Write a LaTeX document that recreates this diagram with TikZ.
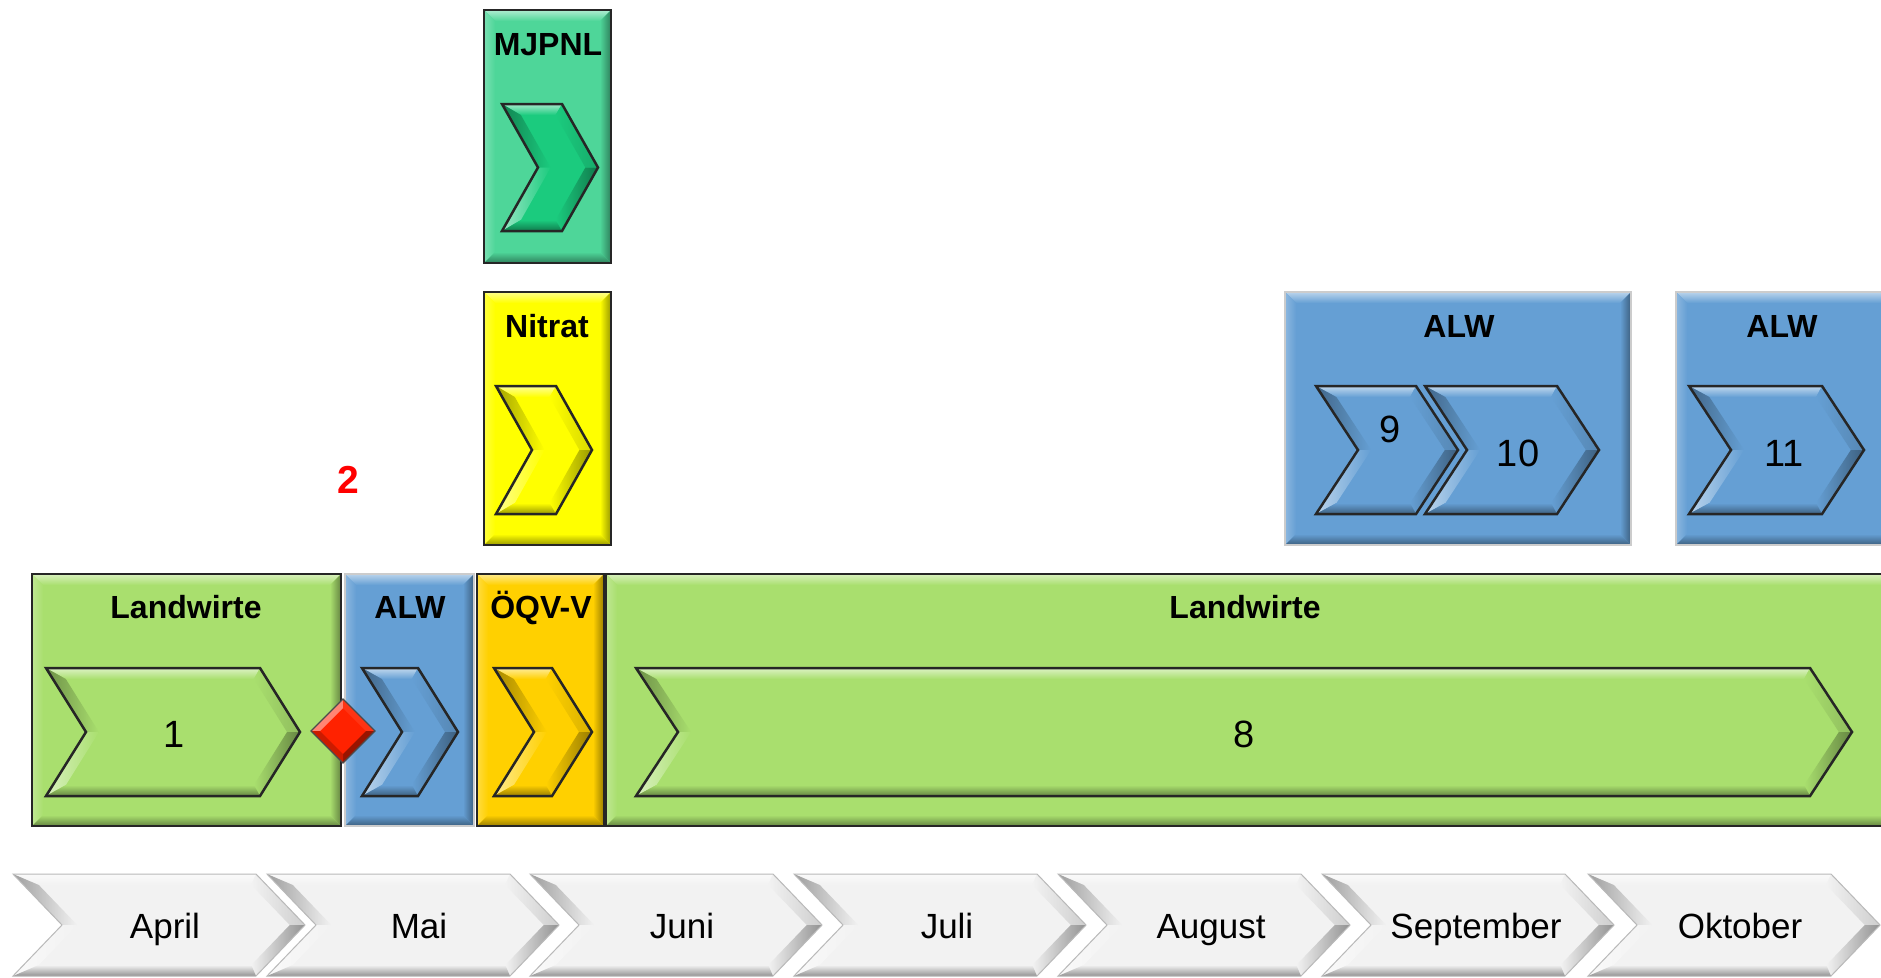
\documentclass[tikz,border=0pt]{standalone}
\usepackage{fontspec}
\setmainfont{Liberation Sans}
\definecolor{lgreen}{HTML}{A9DF6E}
\definecolor{alwblue}{HTML}{659FD4}
\definecolor{oqv}{HTML}{FFD000}
\definecolor{nyellow}{HTML}{FFFF00}
\definecolor{mjbox}{HTML}{4ED699}
\definecolor{mjchev}{HTML}{1BCB7E}
\definecolor{dred}{HTML}{FF2200}
\definecolor{monthgray}{HTML}{F2F2F2}
\newcommand\chw{11}
\newcommand\bevw{11}
% bevelled box: x1 y1 x2 y2 colour linestyle
\newcommand\bevbox[6]{%
 \pgfmathsetmacro\bxA{#1+\bevw}\pgfmathsetmacro\byA{#2+\bevw}%
 \pgfmathsetmacro\bxB{#3-\bevw}\pgfmathsetmacro\byB{#4-\bevw}%
 \fill[#5] (#1,#2) rectangle (#3,#4);
 \shade[top color=#5!45!white, bottom color=#5] (#1,#2) -- (#3,#2) -- (\bxB,\byA) -- (\bxA,\byA) -- cycle;
 \shade[left color=#5!75!white, right color=#5] (#1,#2) -- (\bxA,\byA) -- (\bxA,\byB) -- (#1,#4) -- cycle;
 \shade[left color=#5, right color=#5!60!black] (#3,#2) -- (\bxB,\byA) -- (\bxB,\byB) -- (#3,#4) -- cycle;
 \shade[top color=#5, bottom color=#5!60!black] (#1,#4) -- (\bxA,\byB) -- (\bxB,\byB) -- (#3,#4) -- cycle;
 \draw[#6] (#1,#2) rectangle (#3,#4);
}
% bevelled chevron: left tip top bottom depth colour linestyle
\newcommand\chev[7]{%
 \pgfmathsetmacro\cM{(#3+#4)/2}%
 \pgfmathsetmacro\cH{(#4-#3)/2}%
 \pgfmathsetmacro\cN{#1+#5}%
 \pgfmathsetmacro\cC{#2-#5}%
 \pgfmathsetmacro\cL{sqrt((#5)*(#5)+\cH*\cH)}%
 \pgfmathsetmacro\xTL{#1+\chw*(#5+\cL)/\cH}%
 \pgfmathsetmacro\xN{\cN+\chw*\cL/\cH}%
 \pgfmathsetmacro\xTR{\cC-\chw*(\cL-#5)/\cH}%
 \pgfmathsetmacro\xT{#2-\chw*\cL/\cH}%
 \pgfmathsetmacro\yT{#3+\chw}%
 \pgfmathsetmacro\yB{#4-\chw}%
 \fill[#6] (#1,#3) -- (\cC,#3) -- (#2,\cM) -- (\cC,#4) -- (#1,#4) -- (\cN,\cM) -- cycle;
 \shade[top color=#6!40!white, bottom color=#6] (#1,#3) -- (\cC,#3) -- (\xTR,\yT) -- (\xTL,\yT) -- cycle;
 \shade[left color=#6!65!black, right color=#6] (#1,#3) -- (\xTL,\yT) -- (\xN,\cM) -- (\cN,\cM) -- cycle;
 \shade[left color=#6!45!white, right color=#6] (\cN,\cM) -- (\xN,\cM) -- (\xTL,\yB) -- (#1,#4) -- cycle;
 \shade[left color=#6, right color=#6!85!black] (\cC,#3) -- (#2,\cM) -- (\xT,\cM) -- (\xTR,\yT) -- cycle;
 \shade[left color=#6, right color=#6!60!black] (#2,\cM) -- (\cC,#4) -- (\xTR,\yB) -- (\xT,\cM) -- cycle;
 \shade[top color=#6, bottom color=#6!60!black] (\xTL,\yB) -- (\xTR,\yB) -- (\cC,#4) -- (#1,#4) -- cycle;
 \draw[#7] (#1,#3) -- (\cC,#3) -- (#2,\cM) -- (\cC,#4) -- (#1,#4) -- (\cN,\cM) -- cycle;
}
\begin{document}
\begin{tikzpicture}[x=1pt,y=-1pt,
  lbl/.style={font=\fontsize{32}{36}\selectfont\bfseries, inner sep=0pt, anchor=base},
  num/.style={font=\fontsize{38}{42}\selectfont, inner sep=0pt, anchor=base},
  mon/.style={font=\fontsize{35}{40}\selectfont, inner sep=0pt, anchor=base},
  darkline/.style={draw=black!85, line width=2.5pt},
  lightline/.style={draw=gray!40, line width=2pt},
  chevline/.style={draw=black!85, line width=2.5pt, line join=miter},
  monline/.style={draw=gray!55, line width=1pt, line join=miter},
]
\useasboundingbox (0,0) rectangle (1881,977);
\clip (0,0) rectangle (1881,977);
\fill[white] (0,0) rectangle (1881,977);

% ---- top boxes
\bevbox{484}{10}{611}{263}{mjbox}{darkline}
\chev{502}{598}{104}{231}{36}{mjchev}{chevline}
\bevbox{484}{292}{611}{545}{nyellow}{darkline}
\chev{496}{592}{386}{514}{36}{nyellow}{chevline}
\bevbox{1285}{292}{1631}{545}{alwblue}{lightline}
\chev{1316}{1458}{386}{514}{42}{alwblue}{chevline}
\chev{1425}{1599}{386}{514}{42}{alwblue}{chevline}
\bevbox{1676}{292}{1900}{545}{alwblue}{lightline}
\chev{1689}{1864}{386}{514}{42}{alwblue}{chevline}

% ---- bottom row boxes
\bevbox{32}{574}{341}{826}{lgreen}{darkline}
\bevbox{345}{574}{474}{826}{alwblue}{lightline}
\bevbox{477}{574}{604}{826}{oqv}{darkline}
\bevbox{606}{574}{1900}{826}{lgreen}{darkline}
\chev{46}{300}{668}{796}{40}{lgreen}{chevline}
\chev{362}{458}{668}{796}{40}{alwblue}{chevline}
\chev{494}{592}{668}{796}{40}{oqv}{chevline}
\chev{636}{1852}{668}{796}{42}{lgreen}{chevline}

% ---- red diamond (milestone)
\coordinate (diamond) at (343,731);
\fill[dred] (343,699) -- (375,731) -- (343,763) -- (311,731) -- cycle;
\fill[dred!55!white] (343,699) -- (343,708) -- (320,731) -- (311,731) -- cycle;
\fill[dred!92!white] (343,699) -- (375,731) -- (366,731) -- (343,708) -- cycle;
\fill[dred!60!black] (375,731) -- (343,763) -- (343,754) -- (366,731) -- cycle;
\fill[dred!80!black] (343,763) -- (311,731) -- (320,731) -- (343,754) -- cycle;
\draw[black!70, line width=1.2pt] (343,699) -- (375,731) -- (343,763) -- (311,731) -- cycle;

% ---- month chevrons
\foreach \lx in {13,267,530,794,1058,1322,1588}{
  \pgfmathsetmacro\rx{\lx+292}
  \chev{\lx}{\rx}{874}{976}{49}{monthgray}{monline}
}

% ---- texts
\node[lbl] (tL1) at (186,618) {Landwirte};
\node[lbl] (tALW1) at (410,618) {ALW};
\node[lbl] (tOQV) at (541,618) {ÖQV-V};
\node[lbl] (tL8) at (1245,618) {Landwirte};
\node[lbl] (tMJ) at (548,55) {MJPNL};
\node[lbl] (tNi) at (547,337) {Nitrat};
\node[lbl] (tALW2) at (1459,337) {ALW};
\node[lbl] (tALW3) at (1782,337) {ALW};
\node[num] (n1) at (174,747) {1};
\node[num] (n8) at (1244,747) {8};
\node[num] (n9) at (1390,442) {9};
\node[num] (n10) at (1518,466) {10};
\node[num] (n11) at (1784,466) {11};
\node[lbl, text=red, font=\fontsize{39}{42}\selectfont\bfseries] (n2) at (348,493) {2};

\node[mon] (mApr) at (165,938) {April};
\node[mon] (mMai) at (419,938) {Mai};
\node[mon] (mJun) at (682,938) {Juni};
\node[mon] (mJul) at (947,938) {Juli};
\node[mon] (mAug) at (1211,938) {August};
\node[mon] (mSep) at (1476,938) {September};
\node[mon] (mOkt) at (1740,938) {Oktober};
\end{tikzpicture}
\end{document}
